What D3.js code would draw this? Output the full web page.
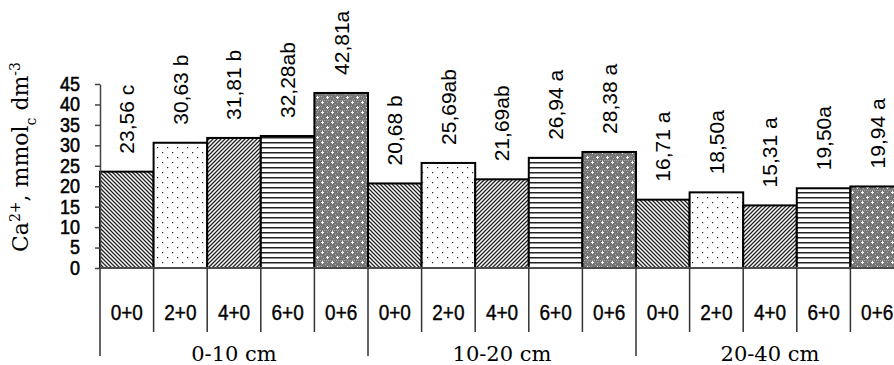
<!DOCTYPE html>
<meta charset="utf-8">
<style>
body { margin: 0; background: #fff; }
text { font-family: "Liberation Sans", Arial, sans-serif; fill: #000; }
.serif { font-family: "DejaVu Serif", serif; }
</style>
<body>
<svg id="chart" width="894" height="365"></svg>
<script src="https://cdn.jsdelivr.net/npm/d3@7"></script>
<script>
// data
var depths = ["0-10 cm", "10-20 cm", "20-40 cm"];
var doses = ["0+0", "2+0", "4+0", "6+0", "0+6"];
var depth010 = [23.56, 30.63, 31.81, 32.28, 42.81];
var depth1020 = [20.68, 25.69, 21.69, 26.94, 28.38];
var depth2040 = [16.71, 18.50, 15.31, 19.50, 19.94];
var labels010 = ["23,56 c", "30,63 b", "31,81 b", "32,28ab", "42,81a"];
var labels1020 = ["20,68 b", "25,69ab", "21,69ab", "26,94 a", "28,38 a"];
var labels2040 = ["16,71 a", "18,50a", "15,31 a", "19,50a", "19,94 a"];
var yTicks = [0, 5, 10, 15, 20, 25, 30, 35, 40, 45];

var seriesVals = [depth010, depth1020, depth2040];
var seriesLabels = [labels010, labels1020, labels2040];

var bars = [];
depths.forEach(function(dep, g) {
  doses.forEach(function(dose, j) {
    bars.push({ key: g + "_" + j, group: g, dose: j, doseName: dose, value: seriesVals[g][j], label: seriesLabels[g][j] });
  });
});

var svg = d3.select("#chart");
var baseY = 268;

var x = d3.scaleBand().domain(bars.map(function(d) { return d.key; })).range([100, 904]).padding(0);
var y = d3.scaleLinear().domain([0, 45]).range([baseY, 84]);

// hatch patterns
var defs = svg.append("defs");
var p;
p = defs.append("pattern").attr("id", "pat0").attr("patternUnits", "userSpaceOnUse").attr("width", 4).attr("height", 4);
p.append("rect").attr("width", 4).attr("height", 4).attr("fill", "#fff");
p.append("path").attr("d", "M-1,-1 L5,5 M-1,3 L1,5 M3,-1 L5,1").attr("stroke", "#222").attr("stroke-width", 1.3);

p = defs.append("pattern").attr("id", "pat1").attr("patternUnits", "userSpaceOnUse").attr("width", 10).attr("height", 10);
p.append("rect").attr("width", 10).attr("height", 10).attr("fill", "#fff");
p.append("rect").attr("x", 2).attr("y", 2).attr("width", 1.2).attr("height", 1.2).attr("fill", "#222");
p.append("rect").attr("x", 7).attr("y", 7).attr("width", 1.2).attr("height", 1.2).attr("fill", "#222");

p = defs.append("pattern").attr("id", "pat2").attr("patternUnits", "userSpaceOnUse").attr("width", 4).attr("height", 4);
p.append("rect").attr("width", 4).attr("height", 4).attr("fill", "#fff");
p.append("path").attr("d", "M-1,5 L5,-1 M-1,1 L1,-1 M3,5 L5,3").attr("stroke", "#222").attr("stroke-width", 1.3);

p = defs.append("pattern").attr("id", "pat3").attr("patternUnits", "userSpaceOnUse").attr("width", 5).attr("height", 5);
p.append("rect").attr("width", 5).attr("height", 5).attr("fill", "#fff");
p.append("rect").attr("y", 2).attr("width", 5).attr("height", 1.5).attr("fill", "#222");

p = defs.append("pattern").attr("id", "pat4").attr("patternUnits", "userSpaceOnUse").attr("width", 10).attr("height", 10);
p.append("rect").attr("width", 10).attr("height", 10).attr("fill", "#767676");
p.append("path").attr("d", "M0,0h1v1h-1z M2,0h1v1h-1z M4,0h1v1h-1z M6,0h1v1h-1z M8,0h1v1h-1z M1,2h1v1h-1z M5,4h1v1h-1z M9,6h1v1h-1z M3,8h1v1h-1z M7,2h1v1h-1z M1,6h1v1h-1z")
  .attr("fill", "#a8a8a8");
p.append("path").attr("d", "M2,1h1v3h-1z M1,2h3v1h-3z M7,6h1v3h-1z M6,7h3v1h-3z").attr("fill", "#fff");

// bars
svg.append("g").selectAll("rect").data(bars).join("rect")
  .attr("x", function(d) { return x(d.key); })
  .attr("y", function(d) { return y(d.value); })
  .attr("width", x.bandwidth())
  .attr("height", function(d) { return baseY - y(d.value); })
  .attr("fill", function(d) { return "url(#pat" + d.dose + ")"; })
  .attr("stroke", "#000")
  .attr("stroke-width", 2);

// value labels
svg.append("g").selectAll("text").data(bars).join("text")
  .attr("transform", function(d) {
    return "translate(" + (x(d.key) + x.bandwidth() / 2) + "," + (y(d.value) - 18) + ") rotate(-90)";
  })
  .attr("dy", "0.35em")
  .attr("font-size", 21)
  .text(function(d) { return d.label; });

// y axis
var yAxis = svg.append("g").attr("transform", "translate(100,0)")
  .call(d3.axisLeft(y).tickValues(yTicks).tickSize(5).tickSizeOuter(0).tickPadding(15));
yAxis.select(".domain").attr("stroke", "#444").attr("stroke-width", 1.5);
yAxis.selectAll(".tick line").attr("stroke", "#444").attr("stroke-width", 1.5);
yAxis.selectAll(".tick text")
  .attr("font-size", 18)
  .attr("font-family", "Liberation Sans, Arial, sans-serif")
  .attr("fill", "#000")
  .attr("stroke", "#000").attr("stroke-width", 0.5)
  .attr("transform", "scale(1,1.1)");

// y title
var yt = svg.append("text").attr("class", "serif")
  .attr("transform", "translate(28,157) rotate(-90)")
  .attr("text-anchor", "middle")
  .attr("font-size", 22);
yt.append("tspan").text("Ca");
yt.append("tspan").attr("baseline-shift", "super").attr("font-size", 14).text("2+");
yt.append("tspan").text(", mmol");
yt.append("tspan").attr("baseline-shift", "sub").attr("font-size", 14).text("c");
yt.append("tspan").text(" dm");
yt.append("tspan").attr("baseline-shift", "super").attr("font-size", 14).text("-3");

// category table under the axis
var grid = svg.append("g").attr("stroke", "#333").attr("stroke-width", 1.5);
grid.append("line").attr("x1", 100).attr("x2", 904).attr("y1", baseY).attr("y2", baseY).attr("stroke", "#666");
var bounds = bars.map(function(d) { return x(d.key); }).concat([x.range()[1]]);
grid.selectAll(".sep").data(bounds).join("line")
  .attr("x1", function(d) { return d; }).attr("x2", function(d) { return d; })
  .attr("y1", baseY)
  .attr("y2", function(d, i) { return i % doses.length === 0 ? 356 : 332; });

svg.append("g").selectAll("text").data(bars).join("text")
  .attr("transform", function(d) { return "translate(" + (x(d.key) + x.bandwidth() / 2) + ",313) scale(1,1.12)"; })
  .attr("dy", "0.35em")
  .attr("text-anchor", "middle")
  .attr("font-size", 19)
  .attr("stroke", "#000").attr("stroke-width", 0.35)
  .text(function(d) { return d.doseName; });

svg.append("g").selectAll("text").data(depths).join("text")
  .attr("class", "serif")
  .attr("x", function(d, g) {
    return (x(g + "_0") + x(g + "_4") + x.bandwidth()) / 2;
  })
  .attr("y", 361)
  .attr("text-anchor", "middle")
  .attr("font-size", 21)
  .text(function(d) { return d; });
</script>
</body>
